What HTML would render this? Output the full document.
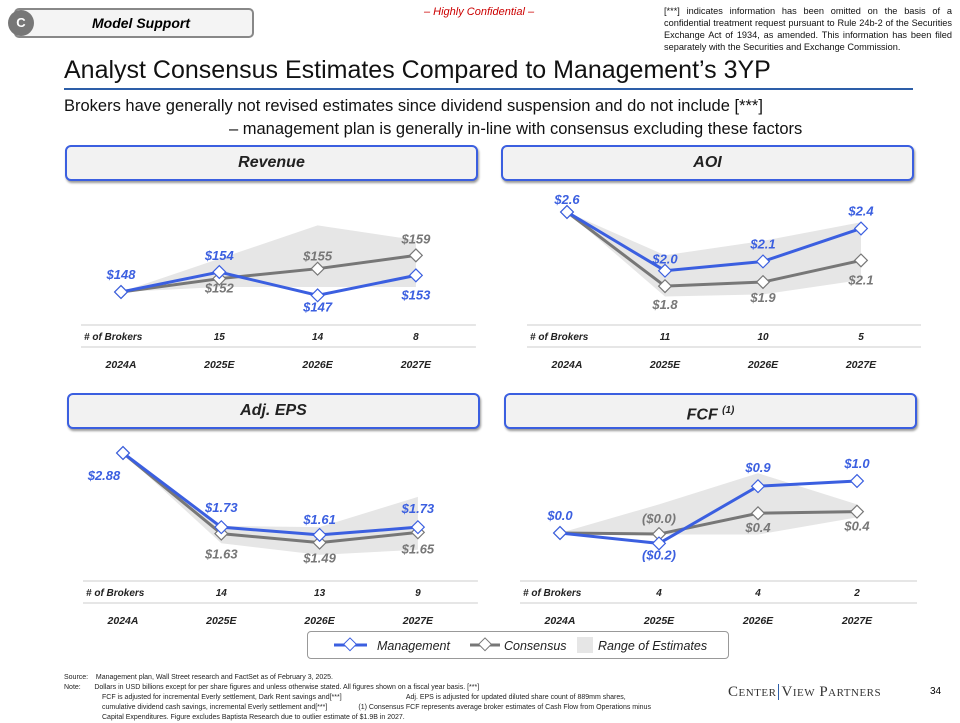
<!DOCTYPE html>
<html><head><meta charset="utf-8">
<style>
body{margin:0;width:960px;height:720px;background:#fff;font-family:"Liberation Sans",sans-serif;position:relative;overflow:hidden}
.abs{position:absolute}
.hdr{position:absolute;border:2px solid #3b5fe0;border-radius:6px;background:#f2f2f2;box-shadow:1px 2px 2px #999;text-align:center;font-weight:bold;font-style:italic;font-size:16px;line-height:32px;color:#222}
.foot{font-size:7px;color:#222;line-height:10px}
</style></head><body>
<div class="abs" style="left:14px;top:8px;width:236px;height:26px;border:2px solid #888;border-radius:5px;background:#f4f4f4"></div>
<div class="abs" style="left:8px;top:10px;width:26px;height:26px;border-radius:13px;background:#777;color:#fff;font-weight:bold;font-size:13px;line-height:26px;text-align:center">C</div>
<div class="abs" style="left:92px;top:15px;font-size:14px;font-weight:bold;font-style:italic">Model Support</div>
<div class="abs" style="left:424px;top:6px;font-size:11px;font-style:italic;color:#c00">– Highly Confidential –</div>
<div class="abs" style="left:664px;top:5px;width:288px;font-size:9.2px;line-height:12px;text-align:justify;color:#111">[***] indicates information has been omitted on the basis of a confidential treatment request pursuant to Rule 24b-2 of the Securities Exchange Act of 1934, as amended. This information has been filed separately with the Securities and Exchange Commission.</div>
<div class="abs" style="left:64px;top:56px;font-size:25px;color:#111">Analyst Consensus Estimates Compared to Management’s 3YP</div>
<div class="abs" style="left:64px;top:88px;width:849px;height:2px;background:#2d5ea8"></div>
<div class="abs" style="left:64px;top:95px;font-size:16.5px;line-height:23px;color:#111">Brokers have generally not revised estimates since dividend suspension and do not include [***]<br><span style="padding-left:165px">– management plan is generally in-line with consensus excluding these factors</span></div>

<div class="hdr" style="left:65px;top:145px;width:409px;height:32px">Revenue</div>
<div class="hdr" style="left:501px;top:145px;width:409px;height:32px">AOI</div>
<div class="hdr" style="left:67px;top:393px;width:409px;height:32px">Adj. EPS</div>
<div class="hdr" style="left:504px;top:393px;width:409px;height:32px">FCF <sup style="font-size:10px">(1)</sup></div>

<svg id="chart" class="abs" style="left:0;top:0" width="960" height="720"></svg>

<div class="abs" style="left:307px;top:631px;width:420px;height:26px;border:1px solid #999;border-radius:4px"></div>
<svg class="abs" style="left:307px;top:631px" width="422" height="28">
<line x1="27" y1="14" x2="60" y2="14" stroke="#3b5fe0" stroke-width="3"/><rect x="38" y="9" width="9" height="9" transform="rotate(45 43 14)" fill="#fff" stroke="#3b5fe0"/>
<line x1="163" y1="14" x2="193" y2="14" stroke="#777" stroke-width="3"/><rect x="173" y="9" width="9" height="9" transform="rotate(45 178 14)" fill="#fff" stroke="#777"/>
<rect x="270" y="6" width="16" height="16" fill="#e6e6e6"/>
<text x="70" y="19" font-size="12.5" font-style="italic" fill="#222">Management</text>
<text x="197" y="19" font-size="12.5" font-style="italic" fill="#222">Consensus</text>
<text x="291" y="19" font-size="12.5" font-style="italic" fill="#222">Range of Estimates</text>
</svg>

<div class="abs foot" style="left:64px;top:673px;width:650px">
<div>Source:&nbsp;&nbsp;&nbsp;&nbsp;Management plan, Wall Street research and FactSet as of February 3, 2025.</div>
<div>Note:&nbsp;&nbsp;&nbsp;&nbsp;&nbsp;&nbsp;&nbsp;Dollars in USD billions except for per share figures and unless otherwise stated. All figures shown on a fiscal year basis. [***]</div>
<div style="padding-left:38px">FCF is adjusted for incremental Everly settlement, Dark Rent savings and[***]&nbsp;&nbsp;&nbsp;&nbsp;&nbsp;&nbsp;&nbsp;&nbsp;&nbsp;&nbsp;&nbsp;&nbsp;&nbsp;&nbsp;&nbsp;&nbsp;&nbsp;&nbsp;&nbsp;&nbsp;&nbsp;&nbsp;&nbsp;&nbsp;&nbsp;&nbsp;&nbsp;&nbsp;&nbsp;&nbsp;&nbsp;&nbsp;&nbsp;Adj. EPS is adjusted for updated diluted share count of 889mm shares,</div>
<div style="padding-left:38px">cumulative dividend cash savings, incremental Everly settlement and[***]&nbsp;&nbsp;&nbsp;&nbsp;&nbsp;&nbsp;&nbsp;&nbsp;&nbsp;&nbsp;&nbsp;&nbsp;&nbsp;&nbsp;&nbsp;&nbsp;(1) Consensus FCF represents average broker estimates of Cash Flow from Operations minus</div>
<div style="padding-left:38px">Capital Expenditures. Figure excludes Baptista Research due to outlier estimate of $1.9B in 2027.</div>
</div>
<div class="abs" style="left:728px;top:684px;font-family:'Liberation Serif',serif;font-size:15px;letter-spacing:0.5px;color:#333">C<span style="font-size:11px">ENTER</span><span style="border-left:1.5px solid #2d5ea8;margin:0 2px"></span>V<span style="font-size:11px">IEW</span> P<span style="font-size:11px">ARTNERS</span></div>
<div class="abs" style="left:930px;top:686px;font-size:10px">34</div>

<script>
const years = ["2024A","2025E","2026E","2027E"];
const revMgmt = [148,154,147,153];
const revCons = [148,152,155,159];
const revLow = [148,149.5,149.5,149.5];
const revHigh = [148,158,168,163.6];
const revBrokers = ["15","14","8"];
const aoiMgmt = [2.6,2.03,2.12,2.44];
const aoiCons = [2.6,1.88,1.92,2.13];
const aoiLow = [2.6,1.78,1.80,1.94];
const aoiHigh = [2.6,2.18,2.32,2.5];
const aoiBrokers = ["11","10","5"];
const epsMgmt = [2.88,1.73,1.61,1.73];
const epsCons = [2.88,1.63,1.49,1.65];
const epsLow = [2.88,1.48,1.30,1.38];
const epsHigh = [2.88,1.75,1.73,2.20];
const epsBrokers = ["14","13","9"];
const fcfMgmt = [0.0,-0.2,0.9,1.0];
const fcfCons = [0.0,-0.02,0.38,0.41];
const fcfLow = [0.0,-0.03,-0.03,0.3];
const fcfHigh = [0.0,0.55,1.15,0.55];
const fcfBrokers = ["4","4","2"];
const revMgmtLbl = ["$148","$154","$147","$153"];
const revConsLbl = ["","$152","$155","$159"];
const aoiMgmtLbl = ["$2.6","$2.0","$2.1","$2.4"];
const aoiConsLbl = ["","$1.8","$1.9","$2.1"];
const epsMgmtLbl = ["$2.88","$1.73","$1.61","$1.73"];
const epsConsLbl = ["","$1.63","$1.49","$1.65"];
const fcfMgmtLbl = ["$0.0","($0.2)","$0.9","$1.0"];
const fcfConsLbl = ["","($0.0)","$0.4","$0.4"];

const NS="http://www.w3.org/2000/svg";
const svg=document.getElementById('chart');
function mk(tag,attrs,parent){const e=document.createElementNS(NS,tag);for(const k in attrs)e.setAttribute(k,attrs[k]);(parent||svg).appendChild(e);return e;}

function panel(p){
  const g=mk('g',{});
  
  
  const x=i=>p.x0+i*p.dx;
  const y=v=>p.y0-(v-p.v0)*p.k;
  let d='';
  p.high.forEach((v,i)=>d+=(i?'L':'M')+x(i)+','+y(v));
  for(let i=p.low.length-1;i>=0;i--)d+='L'+x(i)+','+y(p.low[i]);
  const area=mk('path',{d:d+'Z',fill:'#e6e6e6'},g);
  
  
  [[p.cons,'#777','consensus'],[p.mgmt,'#3b5fe0','management']].forEach(([s,c,n])=>{
    const l=mk('polyline',{points:s.map((v,i)=>x(i)+','+y(v)).join(' '),fill:'none',stroke:c,'stroke-width':3},g);
    
    
    s.forEach((v,i)=>{
      const cx=x(i),cy=y(v);
      const m=mk('rect',{x:cx-4.5,y:cy-4.5,width:9,height:9,fill:'#fff',stroke:c,'stroke-width':1.2,transform:`rotate(45 ${cx} ${cy})`},g);
      
      
    });
  });
  p.mgmt.forEach((v,i)=>{
    const t=mk('text',{x:x(i)+(p.mdx[i]||0),y:y(v)+p.mdy[i],'text-anchor':'middle','font-size':13,'font-weight':'bold','font-style':'italic',fill:'#3b5fe0'},g);
    t.textContent=p.mlbl[i];
    
    
  });
  p.cons.forEach((v,i)=>{
    if(!p.clbl[i])return;
    const t=mk('text',{x:x(i),y:y(v)+p.cdy[i],'text-anchor':'middle','font-size':13,'font-weight':'bold','font-style':'italic',fill:'#777'},g);
    t.textContent=p.clbl[i];
    
    
  });
  mk('line',{x1:p.x0-40,x2:p.x0+3*p.dx+60,y1:p.ry-11,y2:p.ry-11,stroke:'#ccc'},g);
  mk('line',{x1:p.x0-40,x2:p.x0+3*p.dx+60,y1:p.ry+11,y2:p.ry+11,stroke:'#ccc'},g);
  const bl=mk('text',{x:p.x0-37,y:p.ry+4,'font-size':10,'font-weight':'bold','font-style':'italic',fill:'#222'},g);
  bl.textContent='# of Brokers';
  
  
  p.brokers.forEach((b,i)=>{
    const t=mk('text',{x:x(i+1),y:p.ry+4,'text-anchor':'middle','font-size':10,'font-weight':'bold','font-style':'italic',fill:'#222'},g);
    t.textContent=b;
    
    
  });
  years.forEach((yr,i)=>{
    const t=mk('text',{x:x(i),y:p.ry+32,'text-anchor':'middle','font-size':10.5,'font-weight':'bold','font-style':'italic',fill:'#222'},g);
    t.textContent=yr;
    
    
  });
}
panel({name:'revenue-chart',x0:121,dx:98.3,y0:292,v0:148,k:3.33,mgmt:revMgmt,cons:revCons,low:revLow,high:revHigh,brokers:revBrokers,mlbl:revMgmtLbl,clbl:revConsLbl,mdy:[-13,-12,16,24],mdx:[0,0,0,0],cdy:[0,14,-8,-12],ry:336});
panel({name:'aoi-chart',x0:567,dx:98,y0:212,v0:2.6,k:103,mgmt:aoiMgmt,cons:aoiCons,low:aoiLow,high:aoiHigh,brokers:aoiBrokers,mlbl:aoiMgmtLbl,clbl:aoiConsLbl,mdy:[-8,-7,-13,-13],mdx:[0,0,0,0],cdy:[0,23,20,24],ry:336});
panel({name:'eps-chart',x0:123,dx:98.3,y0:453,v0:2.88,k:64.5,mgmt:epsMgmt,cons:epsCons,low:epsLow,high:epsHigh,brokers:epsBrokers,mlbl:epsMgmtLbl,clbl:epsConsLbl,mdy:[27,-15,-11,-14],mdx:[-19,0,0,0],cdy:[0,25,20,21],ry:592});
panel({name:'fcf-chart',x0:560,dx:99,y0:533,v0:0,k:52,mgmt:fcfMgmt,cons:fcfCons,low:fcfLow,high:fcfHigh,brokers:fcfBrokers,mlbl:fcfMgmtLbl,clbl:fcfConsLbl,mdy:[-13,16,-14,-13],mdx:[0,0,0,0],cdy:[0,-11,19,19],ry:592});
</script>
</body></html>
